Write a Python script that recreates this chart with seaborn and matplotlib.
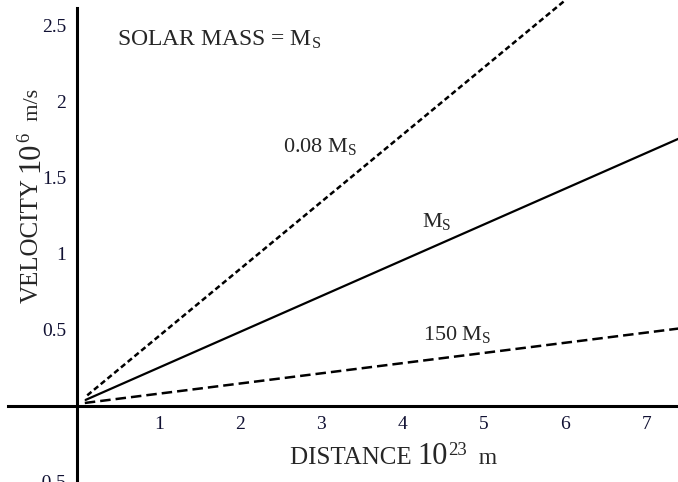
import matplotlib
matplotlib.use("Agg")
import matplotlib.pyplot as plt
from matplotlib.transforms import IdentityTransform
import seaborn as sns
import pandas as pd

# data (distance in 1e23 m, velocity in 1e6 m/s)
mass_labels = ["0.08", "1", "150"]
dist_008 = [0.12, 6.0]
vel_008 = [0.07, 2.67]
dist_1 = [0.10, 7.4]
vel_1 = [0.04, 1.76]
dist_150 = [0.09, 7.4]
vel_150 = [0.02, 0.51]

x_ticks = [1, 2, 3, 4, 5, 6, 7]
y_ticks = [-0.5, 0.5, 1, 1.5, 2, 2.5]
y_tick_labels = ["-0.5", "0.5", "1", "1.5", "2", "2.5"]

df = pd.concat([
    pd.DataFrame({"distance": dist_008, "velocity": vel_008, "mass": mass_labels[0]}),
    pd.DataFrame({"distance": dist_1, "velocity": vel_1, "mass": mass_labels[1]}),
    pd.DataFrame({"distance": dist_150, "velocity": vel_150, "mass": mass_labels[2]}),
])

sns.set_theme(style="white")
plt.rcParams["font.family"] = ["Liberation Serif", "DejaVu Serif"]
plt.rcParams["mathtext.fontset"] = "custom"
plt.rcParams["mathtext.rm"] = "Liberation Serif"
plt.rcParams["mathtext.it"] = "Liberation Serif:italic"

W, H = 678, 482
fig = plt.figure(figsize=(W / 100, H / 100), dpi=100)
ax = fig.add_axes([0, 0, 1, 1])

sns.lineplot(data=df, x="distance", y="velocity", style="mass", units="mass",
             estimator=None, color="black", linewidth=1.8,
             dashes={"0.08": (2.2, 1.3), "1": "", "150": (4.2, 2.0)},
             legend=False, ax=ax)
for ln in ax.lines:
    if ln.get_linestyle() == "-":
        ln.set_linewidth(1.6)

ax.set_xlim(-0.953, 7.386)
ax.set_ylim(-0.5, 2.671)

for side in ["top", "right"]:
    ax.spines[side].set_visible(False)
for side in ["left", "bottom"]:
    ax.spines[side].set_position(("data", 0))
    ax.spines[side].set_linewidth(2.2)
    ax.spines[side].set_color("black")
ax.spines["bottom"].set_bounds(-0.85, 7.386)
ax.spines["left"].set_bounds(-0.5, 2.62)

ax.set_xticks(x_ticks)
ax.set_xticklabels([str(t) for t in x_ticks])
ax.set_yticks(y_ticks)
ax.set_yticklabels(y_tick_labels)
ax.tick_params(axis="both", direction="inout", length=14, width=1.2,
               color="black", labelsize=14, labelcolor="#111133")
ax.tick_params(axis="x", pad=0)
ax.tick_params(axis="y", pad=1)
ax.set_xlabel("")
ax.set_ylabel("")
ax.grid(False)

ms = r"M$_{\mathrm{S}}$"
ax.text(0.49, 2.37, "SOLAR MASS = " + ms, fontsize=17, ha="left", va="baseline")
ax.text(2.53, 1.67, "0.08 " + ms, fontsize=16, ha="left", va="baseline")
ax.text(4.24, 1.18, ms, fontsize=16, ha="left", va="baseline")
ax.text(4.25, 0.434, "150 " + ms, fontsize=16, ha="left", va="baseline")

# axis labels built from pieces so the "10" can be larger than the words
fig.canvas.draw()
renderer = fig.canvas.get_renderer()


def piece_label(start, base, pieces, vertical=False):
    pos = start
    for text, size, rise, gap in pieces:
        if vertical:
            t = fig.text(base - rise, pos, text, fontsize=size, rotation=90,
                         rotation_mode="anchor", ha="left", va="baseline",
                         transform=IdentityTransform())
            pos = t.get_window_extent(renderer).y1 + gap
        else:
            t = fig.text(pos, base + rise, text, fontsize=size, ha="left",
                         va="baseline", transform=IdentityTransform())
            pos = t.get_window_extent(renderer).x1 + gap


piece_label(290, H - 464, [("DISTANCE ", 18, 0, 0), ("10", 22, 0, 0),
                           ("23", 13.5, 9, 0), ("  m", 17, 0, 0)])
piece_label(H - 303, 38, [("VELOCITY", 18, 0, 6), ("10", 22, 0, 0),
                          ("6", 13.5, 9, 0), ("  m/s", 16, 0, 0)], vertical=True)

fig.savefig("out.png", dpi=100)
